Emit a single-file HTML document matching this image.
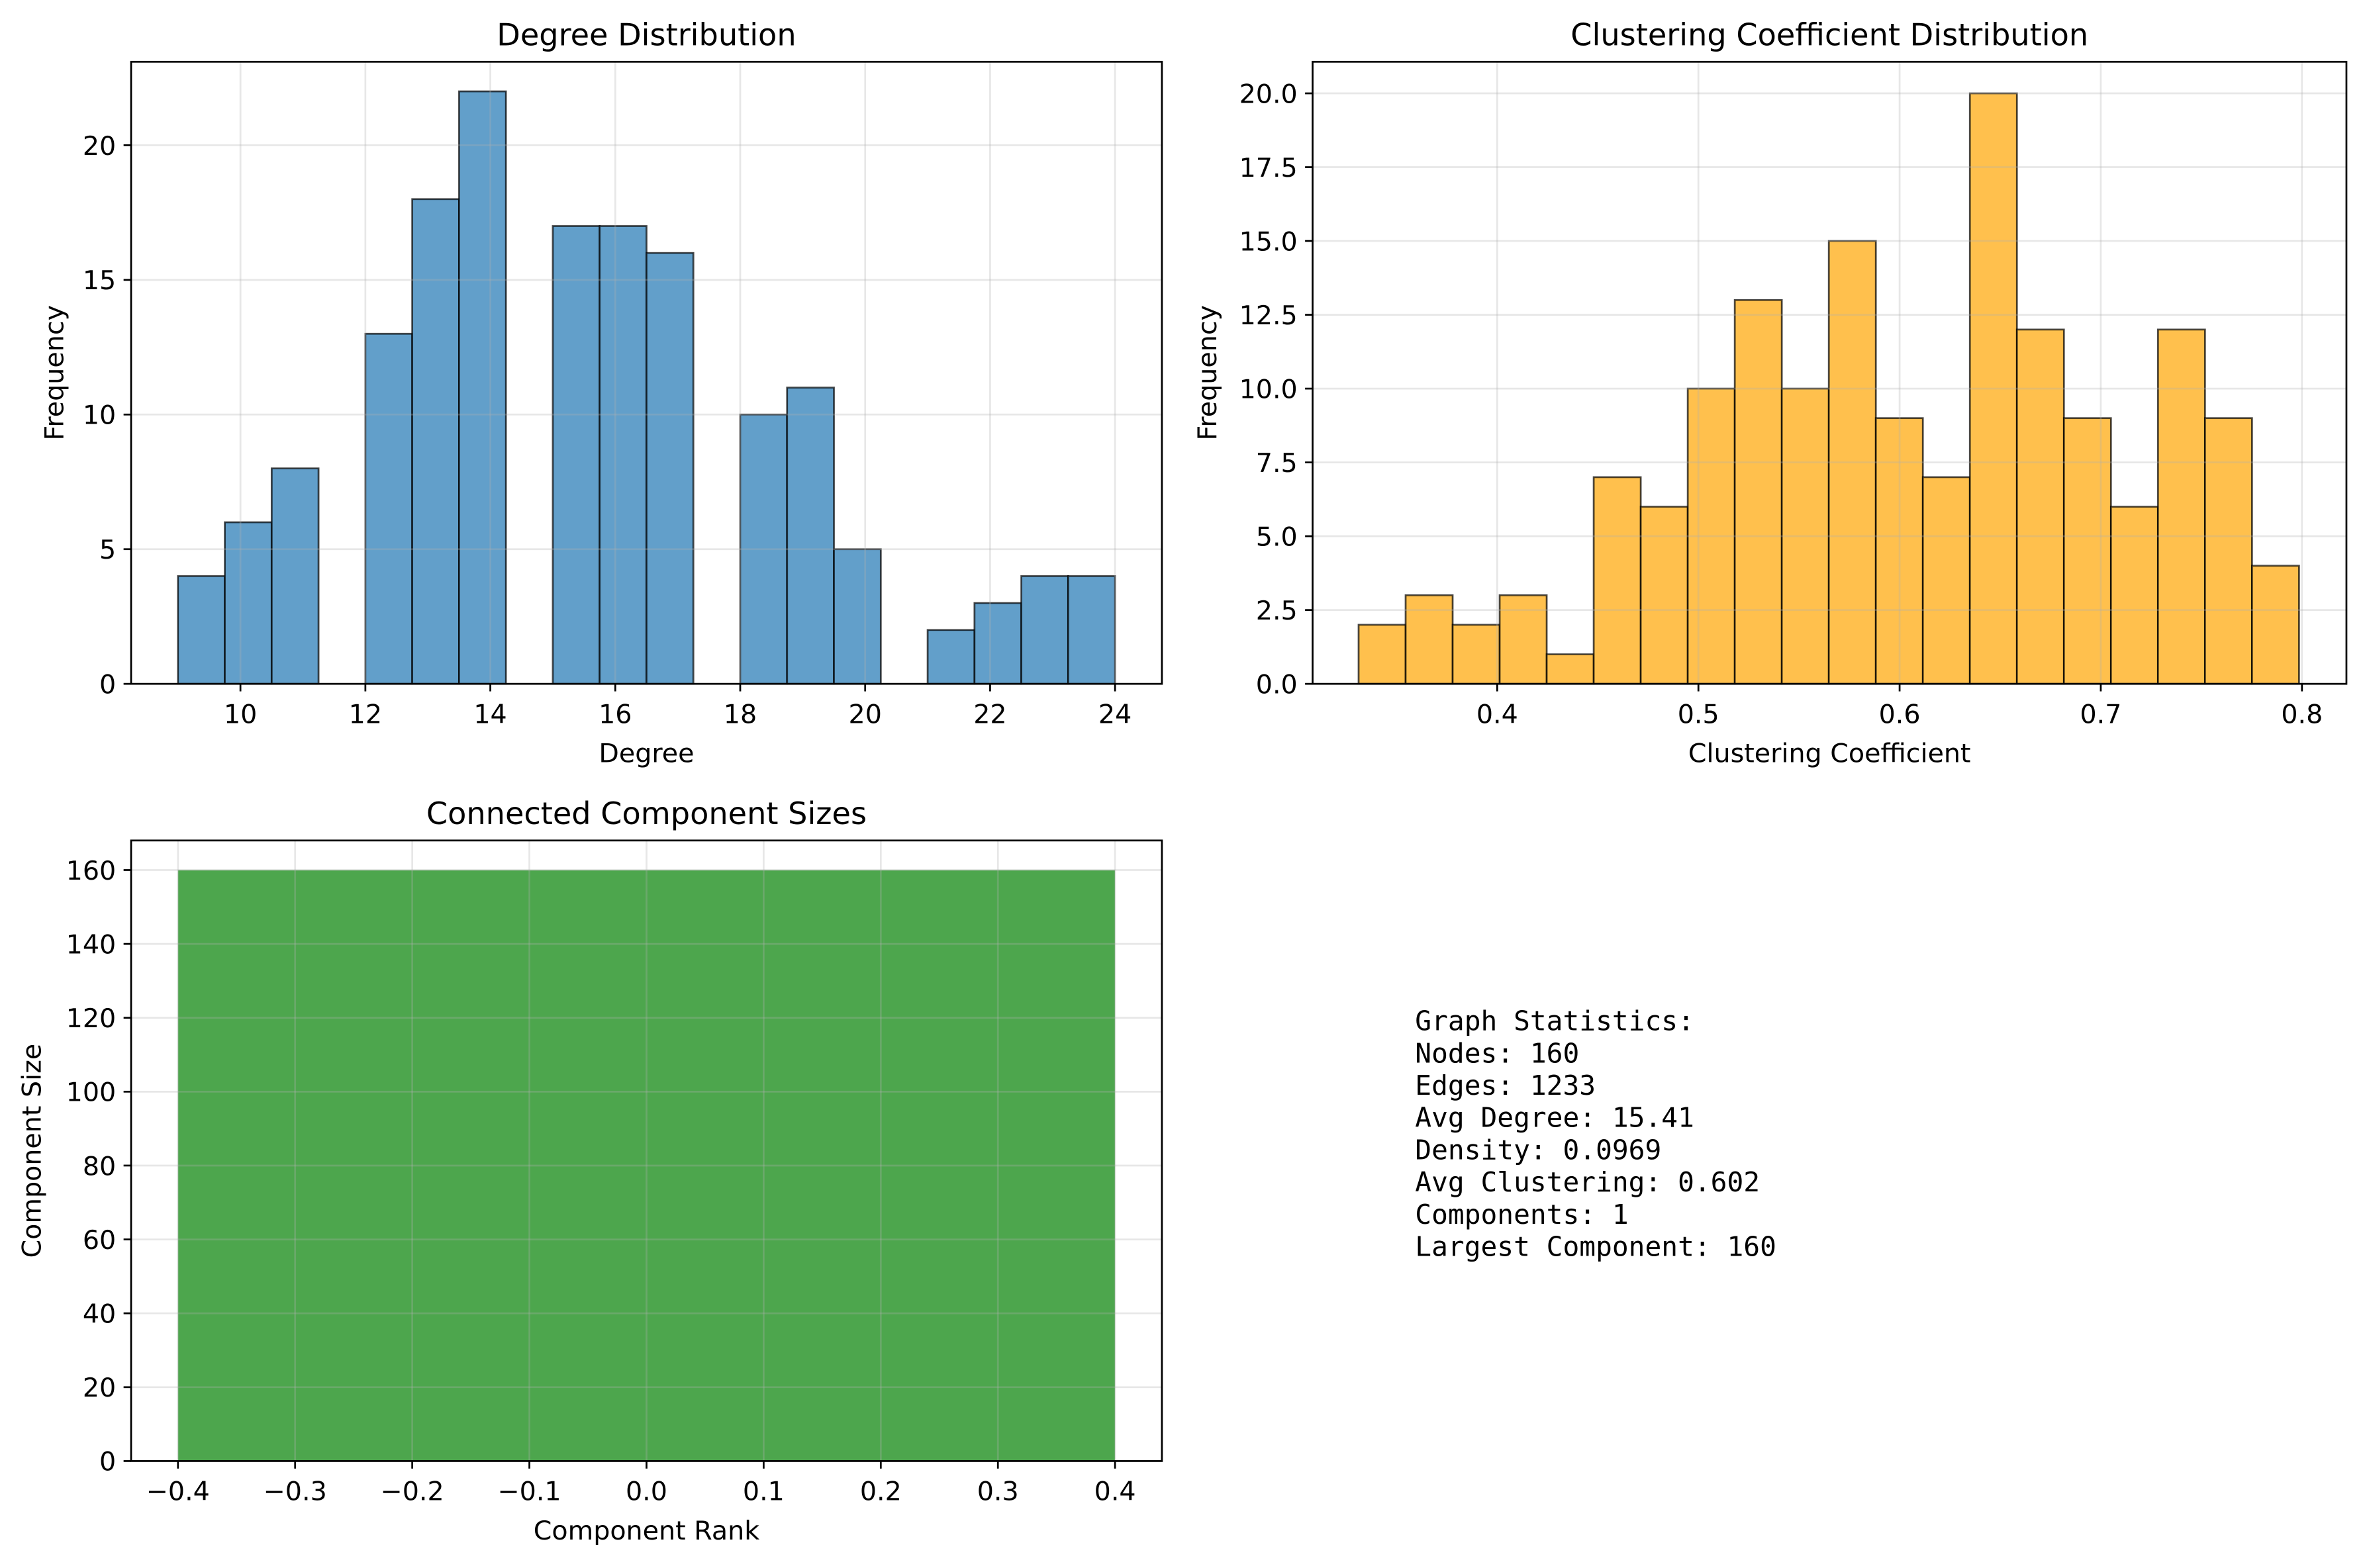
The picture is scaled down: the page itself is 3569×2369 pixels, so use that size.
<!DOCTYPE html>
<html><head><meta charset="utf-8">
<style>
html,body{margin:0;padding:0;background:#fff;}
svg{display:block;font-family:"DejaVu Sans","Liberation Sans",sans-serif;}
</style></head>
<body>
<svg id="fig" width="3569" height="2369" viewBox="0 0 1568 1041" preserveAspectRatio="none" xmlns="http://www.w3.org/2000/svg">
<rect width="1568" height="1041" fill="#fff"/>
<text x="939" y="684" font-family="'DejaVu Sans Mono','Liberation Mono',monospace" font-size="18.1" fill="#000">
<tspan x="939" dy="0">Graph Statistics:</tspan>
<tspan x="939" dy="21.4">Nodes: 160</tspan>
<tspan x="939" dy="21.4">Edges: 1233</tspan>
<tspan x="939" dy="21.4">Avg Degree: 15.41</tspan>
<tspan x="939" dy="21.4">Density: 0.0969</tspan>
<tspan x="939" dy="21.4">Avg Clustering: 0.602</tspan>
<tspan x="939" dy="21.4">Components: 1</tspan>
<tspan x="939" dy="21.4">Largest Component: 160</tspan>
</text>
</svg>
<script>
// Degree histogram data
const degreeBinStart = 9;
const degreeBinWidth = 0.75;
const degreeCounts = [4,6,8,0,13,18,22,0,17,17,16,0,10,11,5,0,2,3,4,4];
const degreeXTicks = [10,12,14,16,18,20,22,24];
const degreeYTicks = [0,5,10,15,20];
// Clustering histogram data
const clustBinStart = 0.3311;
const clustBinWidth = 0.023372;
const clustCounts = [2,3,2,3,1,7,6,10,13,10,15,9,7,20,12,9,6,12,9,4];
const clustXTicks = [0.4,0.5,0.6,0.7,0.8];
const clustYTicks = [0,2.5,5,7.5,10,12.5,15,17.5,20];
// Component sizes
const compRanks = [0];
const compSizes = [160];
const compBarWidth = 0.8;
const compXTicks = [-0.4,-0.3,-0.2,-0.1,0.0,0.1,0.2,0.3,0.4];
const compYTicks = [0,20,40,60,80,100,120,140,160];

const NS="http://www.w3.org/2000/svg";
const svg=document.getElementById('fig');
function mk(tag,attrs,parent){const e=document.createElementNS(NS,tag);for(const k in attrs)e.setAttribute(k,attrs[k]);(parent||svg).appendChild(e);return e;}
function scale(d0,d1,r0,r1){return v=>r0+(v-d0)*(r1-r0)/(d1-d0);}
const FS=17.4, TFS=20.3;

function axes(o){
  const g=mk('g',{});
  
  
  const X=scale(o.xlim[0],o.xlim[1],o.L,o.R), Y=scale(o.ylim[0],o.ylim[1],o.B,o.T);
  o.bars.forEach(b=>{
    const x0=X(b.x0),x1=X(b.x1),y=Y(b.h),y0=Y(0);
    const r=mk('rect',{x:x0,y:Math.min(y,y0),width:x1-x0,height:Math.abs(y0-y),fill:o.fill,stroke:o.edge?'rgba(0,0,0,0.7)':'none','stroke-width':1.2},g);
    
    
  });
  o.xt.forEach(t=>{const l=mk('line',{x1:X(t),x2:X(t),y1:o.T,y2:o.B,stroke:'rgba(176,176,176,0.3)','stroke-width':1.2},g);
    
    });
  o.yt.forEach(t=>{const l=mk('line',{x1:o.L,x2:o.R,y1:Y(t),y2:Y(t),stroke:'rgba(176,176,176,0.3)','stroke-width':1.2},g);
    
    });
  mk('rect',{x:o.L,y:o.T,width:o.R-o.L,height:o.B-o.T,fill:'none',stroke:'#000','stroke-width':1.2},g);
  o.xt.forEach(t=>{mk('line',{x1:X(t),x2:X(t),y1:o.B,y2:o.B+5,stroke:'#000','stroke-width':1.2},g);
    const tx=mk('text',{x:X(t),y:o.B+26,'text-anchor':'middle','font-size':FS},g);
    
    
    tx.textContent=o.xf(t);});
  o.yt.forEach(t=>{mk('line',{x1:o.L-5,x2:o.L,y1:Y(t),y2:Y(t),stroke:'#000','stroke-width':1.2},g);
    const tx=mk('text',{x:o.L-10,y:Y(t)+6.3,'text-anchor':'end','font-size':FS},g);
    
    
    tx.textContent=o.yf(t);});
  const tt=mk('text',{x:(o.L+o.R)/2,y:o.T-11,'text-anchor':'middle','font-size':TFS},g);
  
  
  tt.textContent=o.title;
  const xl=mk('text',{x:(o.L+o.R)/2,y:o.B+52,'text-anchor':'middle','font-size':FS},g);
  
  
  xl.textContent=o.xlabel;
  const yx=o.ylx, yy=(o.T+o.B)/2;
  const yl=mk('text',{x:yx,y:yy,'text-anchor':'middle','font-size':FS,transform:`rotate(-90 ${yx} ${yy})`},g);
  
  
  yl.textContent=o.ylabel;
}

axes({name:'degree-distribution-chart',barName:'degree-bar',L:87,R:771,T:41,B:454,xlim:[8.25,24.75],ylim:[0,23.1],
  bars:degreeCounts.map((c,i)=>({x0:degreeBinStart+i*degreeBinWidth,x1:degreeBinStart+(i+1)*degreeBinWidth,h:c})),
  fill:'#629fca',edge:true,xt:degreeXTicks,yt:degreeYTicks,xf:t=>String(t),yf:t=>String(t),
  title:'Degree Distribution',xlabel:'Degree',ylabel:'Frequency',ylx:42});
axes({name:'clustering-distribution-chart',barName:'clustering-bar',L:871,R:1557,T:41,B:454,xlim:[0.4-122.5/1335,0.4+563.5/1335],ylim:[0,21.07],
  bars:clustCounts.map((c,i)=>({x0:clustBinStart+i*clustBinWidth,x1:clustBinStart+(i+1)*clustBinWidth,h:c})),
  fill:'#ffc04d',edge:true,xt:clustXTicks,yt:clustYTicks,xf:t=>t.toFixed(1),yf:t=>t.toFixed(1),
  title:'Clustering Coefficient Distribution',xlabel:'Clustering Coefficient',ylabel:'Frequency',ylx:807});
axes({name:'component-sizes-chart',barName:'component-bar',L:87,R:771,T:558,B:970,xlim:[-0.44,0.44],ylim:[0,168],
  bars:compRanks.map((r,i)=>({x0:r-compBarWidth/2,x1:r+compBarWidth/2,h:compSizes[i]})),
  fill:'#4da64d',edge:false,xt:compXTicks,yt:compYTicks,xf:t=>(t<0?'\u2212':'')+Math.abs(t).toFixed(1),yf:t=>String(t),
  title:'Connected Component Sizes',xlabel:'Component Rank',ylabel:'Component Size',ylx:27});
</script>
</body></html>
